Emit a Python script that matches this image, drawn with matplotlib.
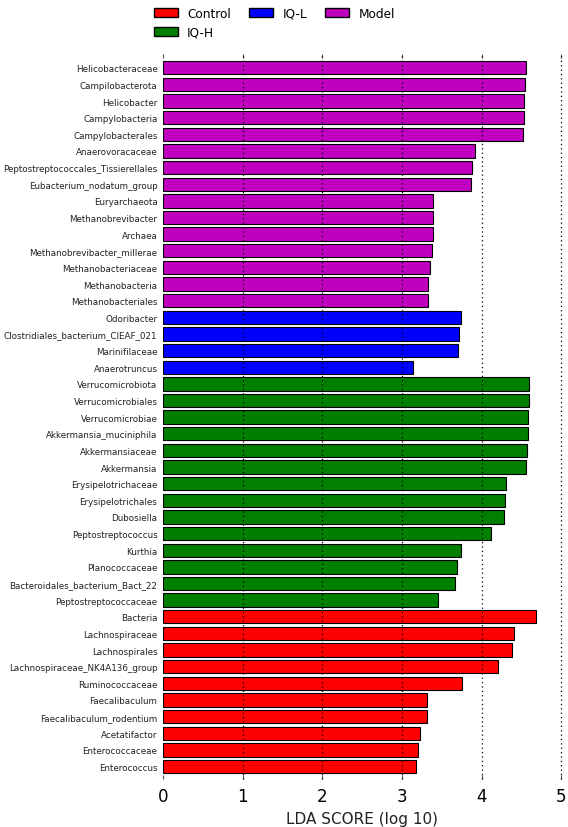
import numpy as np
import matplotlib
matplotlib.use('Agg')
import matplotlib.pyplot as plt
from matplotlib.patches import Patch

# 特征名称（自上而下）与 LDA 分数、所属组
model_names = ['Helicobacteraceae', 'Campilobacterota', 'Helicobacter', 'Campylobacteria',
               'Campylobacterales', 'Anaerovoracaceae', 'Peptostreptococcales_Tissierellales',
               'Eubacterium_nodatum_group', 'Euryarchaeota', 'Methanobrevibacter', 'Archaea',
               'Methanobrevibacter_millerae', 'Methanobacteriaceae', 'Methanobacteria',
               'Methanobacteriales']
model_scores = [4.556, 4.543, 4.531, 4.527, 4.522, 3.915, 3.881, 3.864, 3.395, 3.395, 3.391,
                3.374, 3.349, 3.324, 3.324]

iql_names = ['Odoribacter', 'Clostridiales_bacterium_CIEAF_021', 'Marinifilaceae', 'Anaerotruncus']
iql_scores = [3.743, 3.713, 3.709, 3.139]

iqh_names = ['Verrucomicrobiota', 'Verrucomicrobiales', 'Verrucomicrobiae', 'Akkermansia_muciniphila',
             'Akkermansiaceae', 'Akkermansia', 'Erysipelotrichaceae', 'Erysipelotrichales',
             'Dubosiella', 'Peptostreptococcus', 'Kurthia', 'Planococcaceae',
             'Bacteroidales_bacterium_Bact_22', 'Peptostreptococcaceae']
iqh_scores = [4.602, 4.593, 4.585, 4.581, 4.568, 4.560, 4.313, 4.300, 4.288, 4.116, 3.738,
              3.688, 3.663, 3.458]

control_names = ['Bacteria', 'Lachnospiraceae', 'Lachnospirales', 'Lachnospiraceae_NK4A136_group',
                 'Ruminococcaceae', 'Faecalibaculum', 'Faecalibaculum_rodentium', 'Acetatifactor',
                 'Enterococcaceae', 'Enterococcus']
control_scores = [4.681, 4.409, 4.388, 4.212, 3.751, 3.316, 3.316, 3.231, 3.206, 3.181]

x_ticks = [0, 1, 2, 3, 4, 5]

GROUP_COLORS = {'Control': '#ff0000', 'IQ-H': '#007f00', 'IQ-L': '#0000ff', 'Model': '#bf00bf'}


def main():
    groups = [('Model', model_names, model_scores), ('IQ-L', iql_names, iql_scores),
              ('IQ-H', iqh_names, iqh_scores), ('Control', control_names, control_scores)]
    names, scores, colors = [], [], []
    for g, n, s in groups:
        names += n
        scores += s
        colors += [GROUP_COLORS[g]] * len(n)

    n_bars = len(names)
    y = np.arange(n_bars)[::-1]

    fig = plt.figure(figsize=(5.68, 8.28), dpi=100)
    ax = fig.add_axes([0.287, 0.058, 0.701, 0.876])

    ax.barh(y, scores, height=0.8, color=colors, edgecolor='black', linewidth=0.8,
            align='center', zorder=1)

    ax.set_yticks(y)
    ax.set_yticklabels(names, fontsize=6.3, color='#222222')
    ax.set_ylim(-0.75, n_bars - 0.15)
    ax.set_xlim(0, 5)
    ax.set_xticks(x_ticks)
    ax.tick_params(axis='x', labelsize=12, top=True, direction='in', length=3, pad=6, color='#555555')
    ax.tick_params(axis='y', length=0, pad=4)
    ax.set_xlabel('LDA SCORE (log 10)', fontsize=11, color='#222222')

    for sp in ax.spines.values():
        sp.set_visible(False)

    # 虚线网格画在柱子上方
    for t in x_ticks[1:]:
        ax.axvline(t, linestyle=(0, (1, 2.5)), color='black', linewidth=0.9, zorder=3,
                   clip_on=False)

    # 图例
    handles = [Patch(facecolor=GROUP_COLORS[k], edgecolor='black', label=k)
               for k in ['Control', 'IQ-H', 'IQ-L', 'Model']]
    fig.legend(handles=handles, ncol=3, loc='upper left', bbox_to_anchor=(0.252, 1.004),
               frameon=False, fontsize=8.7, handlelength=2.0, handleheight=0.8,
               columnspacing=1.5, labelspacing=0.5, handletextpad=0.75)

    fig.savefig('out.png', dpi=100)


if __name__ == "__main__":
    main()
